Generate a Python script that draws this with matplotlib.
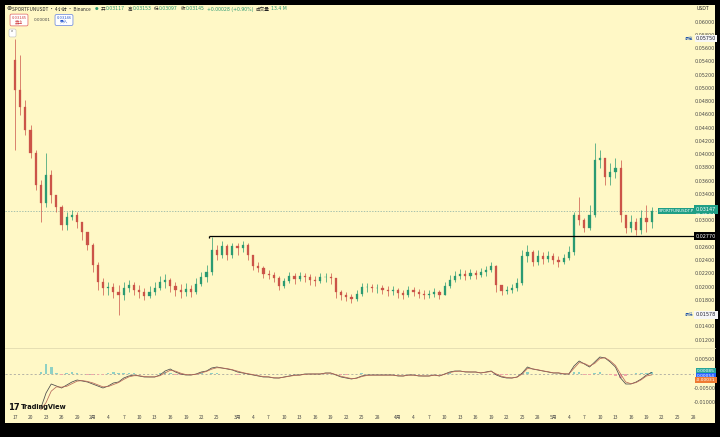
import matplotlib
matplotlib.use('Agg')
import matplotlib.pyplot as plt
import numpy as np
from matplotlib.patches import Rectangle
from matplotlib.lines import Line2D
from matplotlib.transforms import blended_transform_factory

plt.rcParams['font.family'] = ['Noto Sans CJK SC', 'DejaVu Sans']

# ---------------- data (daily aggregation) ----------------
first_open = 0.05426
closes = [
    0.04974, 0.04717, 0.04370, 0.04023, 0.03540, 0.03268, 0.03691, 0.03389, 0.03208, 0.02936,
    0.03057, 0.03087, 0.02981, 0.02830, 0.02634, 0.02332, 0.02076, 0.01985, 0.02000, 0.01925,
    0.01879, 0.01985, 0.02030, 0.01955, 0.01925, 0.01864, 0.01925, 0.01985, 0.02076, 0.02106,
    0.02015, 0.01955, 0.01925, 0.01970, 0.01925, 0.02045, 0.02151, 0.02227, 0.02559, 0.02483,
    0.02619, 0.02483, 0.02619, 0.02589, 0.02634, 0.02483, 0.02317, 0.02287, 0.02196, 0.02181,
    0.02136, 0.02015, 0.02091, 0.02166, 0.02121, 0.02166, 0.02151, 0.02106, 0.02091, 0.02151,
    0.02151, 0.02136, 0.01925, 0.01879, 0.01849, 0.01819, 0.01895, 0.02000, 0.02000, 0.01985,
    0.01985, 0.01955, 0.01940, 0.01955, 0.01910, 0.01879, 0.01955, 0.01925, 0.01895, 0.01879,
    0.01895, 0.01925, 0.01879, 0.02015, 0.02106, 0.02166, 0.02196, 0.02166, 0.02211, 0.02181,
    0.02227, 0.02257, 0.02317, 0.02030, 0.01940, 0.01955, 0.01985, 0.02061, 0.02468, 0.02528,
    0.02378, 0.02468, 0.02423, 0.02468, 0.02408, 0.02378, 0.02438, 0.02528, 0.03087, 0.03011,
    0.02891, 0.03087, 0.03917, 0.03947, 0.03660, 0.03736, 0.03796, 0.03087, 0.02891, 0.02981,
    0.02860, 0.03042, 0.02981, 0.03147]
highs = [
    0.05750, 0.05502, 0.04823, 0.04445, 0.04068, 0.03615, 0.04023, 0.03766, 0.03389, 0.03238,
    0.03132, 0.03162, 0.03132, 0.02981, 0.02830, 0.02664, 0.02378, 0.02136, 0.02076, 0.02061,
    0.02030, 0.02076, 0.02106, 0.02076, 0.02030, 0.01985, 0.02015, 0.02076, 0.02166, 0.02196,
    0.02136, 0.02076, 0.02045, 0.02061, 0.02030, 0.02136, 0.02227, 0.02332, 0.02755, 0.02634,
    0.02694, 0.02649, 0.02664, 0.02664, 0.02694, 0.02664, 0.02483, 0.02378, 0.02317, 0.02257,
    0.02227, 0.02166, 0.02136, 0.02227, 0.02211, 0.02227, 0.02211, 0.02196, 0.02166, 0.02211,
    0.02211, 0.02211, 0.02106, 0.01955, 0.01925, 0.01895, 0.01955, 0.02061, 0.02061, 0.02045,
    0.02045, 0.02030, 0.02015, 0.02015, 0.01985, 0.01955, 0.02015, 0.02000, 0.01970, 0.01955,
    0.01955, 0.01985, 0.01955, 0.02076, 0.02181, 0.02242, 0.02272, 0.02257, 0.02272, 0.02257,
    0.02287, 0.02317, 0.02378, 0.02332, 0.02030, 0.02015, 0.02045, 0.02136, 0.02559, 0.02634,
    0.02559, 0.02559, 0.02528, 0.02544, 0.02513, 0.02468, 0.02498, 0.02619, 0.03132, 0.03359,
    0.03042, 0.03238, 0.04174, 0.04068, 0.03917, 0.03872, 0.03947, 0.03917, 0.03087, 0.03087,
    0.03042, 0.03162, 0.03238, 0.03208]
lows = [
    0.04068, 0.04596, 0.04294, 0.03947, 0.03464, 0.02981, 0.03208, 0.03268, 0.03132, 0.02860,
    0.02860, 0.03011, 0.02891, 0.02710, 0.02559, 0.02227, 0.01955, 0.01879, 0.01879, 0.01834,
    0.01578, 0.01804, 0.01925, 0.01879, 0.01834, 0.01804, 0.01834, 0.01879, 0.01955, 0.01985,
    0.01925, 0.01864, 0.01834, 0.01864, 0.01849, 0.01895, 0.02015, 0.02076, 0.02181, 0.02408,
    0.02438, 0.02408, 0.02438, 0.02483, 0.02528, 0.02408, 0.02257, 0.02227, 0.02136, 0.02121,
    0.02076, 0.01955, 0.01985, 0.02061, 0.02045, 0.02091, 0.02076, 0.02030, 0.02015, 0.02061,
    0.02076, 0.02045, 0.01834, 0.01804, 0.01789, 0.01759, 0.01789, 0.01864, 0.01925, 0.01925,
    0.01910, 0.01895, 0.01864, 0.01879, 0.01834, 0.01819, 0.01849, 0.01864, 0.01834, 0.01819,
    0.01834, 0.01849, 0.01819, 0.01879, 0.01985, 0.02076, 0.02121, 0.02106, 0.02121, 0.02121,
    0.02151, 0.02166, 0.02227, 0.01925, 0.01879, 0.01895, 0.01910, 0.01940, 0.02030, 0.02378,
    0.02317, 0.02332, 0.02347, 0.02378, 0.02347, 0.02302, 0.02347, 0.02408, 0.02483, 0.02936,
    0.02830, 0.02860, 0.03057, 0.03796, 0.03540, 0.03540, 0.03645, 0.02981, 0.02815, 0.02830,
    0.02785, 0.02800, 0.02830, 0.02891]

macd_start = 5
macd_line = [
    -0.0119, -0.00665, -0.0035, -0.0042, -0.0049, -0.00385, -0.0028, -0.0021, -0.00245, -0.0028,
    -0.0035, -0.0042, -0.0049, -0.0042, -0.00315, -0.0028, -0.0014, -0.0007, -0.00035, -0.0007,
    -0.00105, -0.00105, -0.00105, -0.00035, 0.00105, 0.00175, 0.0007, 0.0, -0.00035, -0.00035,
    0.0, 0.0007, 0.00105, 0.0021, 0.00245, 0.0021, 0.00175, 0.0014, 0.0007, 0.00035,
    0.0, -0.00035, -0.0007, -0.00105, -0.00105, -0.0014, -0.0014, -0.00105, -0.0007, -0.00035,
    -0.00035, 0.0, 0.0, 0.0, 0.0, 0.00035, 0.00035, -0.00035, -0.00105, -0.0014,
    -0.00175, -0.0014, -0.0007, -0.00035, -0.00035, -0.00035, -0.00035, -0.00035, -0.00035, -0.0007,
    -0.0007, -0.00035, -0.00035, -0.0007, -0.0007, -0.0007, -0.00035, -0.0007, 0.0, 0.0007,
    0.00105, 0.00105, 0.0007, 0.0007, 0.0007, 0.00035, 0.0007, 0.00105, -0.00035, -0.00105,
    -0.0014, -0.0014, -0.00105, 0.00035, 0.00245, 0.00175, 0.0014, 0.00105, 0.0007, 0.00035,
    0.00035, 0.0, 0.0, 0.0028, 0.00455, 0.0035, 0.00245, 0.0042, 0.00595, 0.0056,
    0.0042, 0.00245, -0.0014, -0.0035, -0.0035, -0.0028, -0.00175, -0.00035, 0.00054]
signal_line = [
    -0.0125, -0.0100, -0.0060, -0.0045, -0.0046, -0.0043, -0.0034, -0.0025, -0.0023, -0.0026,
    -0.0031, -0.0038, -0.0045, -0.0044, -0.0037, -0.0030, -0.0019, -0.0010, -0.0006, -0.0006,
    -0.0009, -0.0010, -0.0010, -0.0006, 0.0004, 0.0013, 0.0010, 0.0003, -0.0002, -0.0003,
    -0.0001, 0.0004, 0.0009, 0.0017, 0.0022, 0.0021, 0.0019, 0.0015, 0.0010, 0.0005,
    0.0001, -0.0002, -0.0006, -0.0009, -0.0010, -0.0013, -0.0014, -0.0011, -0.0008, -0.0005,
    -0.0004, -0.0001, 0.0, 0.0, 0.0, 0.0003, 0.0003, -0.0002, -0.0008, -0.0012,
    -0.0016, -0.0015, -0.0009, -0.0005, -0.0004, -0.0004, -0.0004, -0.0004, -0.0004, -0.0006,
    -0.0007, -0.0004, -0.0004, -0.0006, -0.0007, -0.0007, -0.0004, -0.0006, -0.0001, 0.0005,
    0.0009, 0.0010, 0.0008, 0.0007, 0.0007, 0.0004, 0.0006, 0.0009, 0.0000, -0.0008,
    -0.0012, -0.0014, -0.0011, 0.0000, 0.0019, 0.0018, 0.0015, 0.0011, 0.0008, 0.0004,
    0.0004, 0.0001, 0.0000, 0.0020, 0.0040, 0.0037, 0.0028, 0.0037, 0.0054, 0.0057,
    0.0046, 0.0030, 0.0000, -0.0028, -0.0034, -0.0030, -0.0020, -0.0007, -0.00031]

price_ticks = [0.060, 0.058, 0.056, 0.054, 0.052, 0.050, 0.048, 0.046, 0.044, 0.042, 0.040,
               0.038, 0.036, 0.034, 0.030, 0.026, 0.024, 0.022, 0.020, 0.018, 0.014, 0.012]
macd_ticks = [0.005, -0.005, -0.010]
hline_price = 0.02770
hline_start = 37.5
high_label = 0.05750
low_label = 0.01578
# time axis (day index from Jan 17)
time_pos = [0, 3, 6, 9, 12, 15, 18, 21, 24, 27, 30, 33, 36, 39, 43, 46, 49, 52, 55, 58, 61, 64,
            67, 70, 74, 77, 80, 83, 86, 89, 92, 95, 98, 101, 104, 107, 110, 113, 116, 119, 122,
            125, 128, 131]
time_labels = ['17', '20', '23', '26', '29', '2月', '4', '7', '10', '13', '16', '19', '22', '25',
               '3月', '4', '7', '10', '13', '16', '19', '22', '25', '28', '4月', '4', '7', '10',
               '13', '16', '19', '22', '25', '28', '5月', '4', '7', '10', '13', '16', '19', '22',
               '25', '28']
header_ohlc = [('开', '0.03117'), ('高', '0.03153'), ('低', '0.03097'), ('收', '0.03145')]
header_change = '+0.00028 (+0.90%)'
header_volume = '13.4 M'

# ---------------- figure ----------------
W, H = 720, 437
fig = plt.figure(figsize=(7.2, 4.37), dpi=100, facecolor='black')
bg = '#fff8c6'
GREEN = '#2a9a72'
RED = '#cb5448'
TXT = '#4a4a4a'
FS = 3.5
HFS = 3.3


def fx(px):
    return px / W


def fy(py):
    return 1 - py / H


fig.patches.append(Rectangle((fx(5), fy(423)), 710 / W, 418 / H, transform=fig.transFigure,
                             facecolor=bg, edgecolor='none', zorder=-10))

xl = ((5 - 15) / 5.176, (694 - 15) / 5.176)
ax = fig.add_axes([fx(5), fy(347), 689 / W, 342 / H])
mx = fig.add_axes([fx(5), fy(411), 689 / W, 63 / H])
for a in (ax, mx):
    a.set_facecolor('none')
    for s in a.spines.values():
        s.set_visible(False)
    a.set_xlim(*xl)
    a.tick_params(left=False, labelleft=False, bottom=False, labelbottom=False)

ax.set_ylim(0.010945, 0.06257)
mx.set_ylim(-0.01295, 0.0091)

# candles
n = len(closes)
x = np.arange(n)
c = np.array(closes)
o = np.array([first_open] + closes[:-1])
hi = np.maximum(np.array(highs), np.maximum(o, c))
lo = np.minimum(np.array(lows), np.minimum(o, c))
cols = [GREEN if cc >= oo else RED for oo, cc in zip(o, c)]
ax.vlines(x, lo, hi, colors=cols, linewidth=0.5, zorder=3)
ax.bar(x, c - o, bottom=o, width=0.42, color=cols, edgecolor=cols, linewidth=0.2, zorder=4)

# lines in main pane
ax.axhline(closes[-1], color='#86aca4', linewidth=0.5, linestyle=(0, (2, 2)), zorder=2)
ax.hlines(hline_price, hline_start, xl[1], color='black', linewidth=0.9, zorder=5)
ax.vlines(hline_start, hline_price - 0.0003, hline_price, color='black', linewidth=0.9, zorder=5)

# price axis labels
tr = blended_transform_factory(fig.transFigure, ax.transData)
for p in price_ticks:
    ax.text(fx(705), p, f'{p:.5f}', transform=tr, ha='center', va='center', fontsize=FS,
            color=TXT, family='DejaVu Sans', clip_on=False)

ax.text(fx(706), closes[-1] + 0.00025, f'{closes[-1]:.5f}', transform=tr, ha='center',
        va='center', fontsize=FS, color='white', family='DejaVu Sans',
        bbox=dict(boxstyle='square,pad=0.45', fc='#1f9f86', ec='none'), zorder=10)
ax.text(fx(706), closes[-1] - 0.00055, '01:25:54', transform=tr, ha='center', va='center',
        fontsize=FS - 0.3, color='white', family='DejaVu Sans', zorder=11)
ax.text(fx(694), closes[-1], 'SPORTFUNUSDT.P', transform=tr, ha='right', va='center',
        fontsize=FS - 0.6, color='white', family='DejaVu Sans',
        bbox=dict(boxstyle='square,pad=0.3', fc='#1f9f86', ec='none'), zorder=10)
ax.text(fx(706), hline_price, f'{hline_price:.5f}', transform=tr, ha='center', va='center',
        fontsize=FS, color='white', family='DejaVu Sans',
        bbox=dict(boxstyle='square,pad=0.3', fc='black', ec='none'), zorder=10)
ax.text(fx(706), high_label, f'{high_label:.5f}', transform=tr, ha='center', va='center',
        fontsize=FS, color='#223', family='DejaVu Sans',
        bbox=dict(boxstyle='square,pad=0.15', fc='#f6f6f6', ec='none'), zorder=10)
ax.text(fx(689), high_label, '最高', transform=tr, ha='center', va='center', fontsize=FS - 0.4,
        color='#2255aa', zorder=10)
ax.text(fx(706), low_label, f'{low_label:.5f}', transform=tr, ha='center', va='center',
        fontsize=FS, color='#223', family='DejaVu Sans',
        bbox=dict(boxstyle='square,pad=0.3', fc='#f6f6f6', ec='none'), zorder=10)
ax.text(fx(689), low_label, '最低', transform=tr, ha='center', va='center', fontsize=FS - 0.4,
        color='#2255aa', zorder=10)

# MACD pane
mxs = np.arange(macd_start, macd_start + len(macd_line))
ml = np.array(macd_line)
sl = np.array(signal_line)
hist = ml - sl
hcol = ['#8fd1c4' if h >= 0 else '#f0a8a8' for h in hist]
mx.bar(mxs, hist, width=0.5, color=hcol, zorder=2)
mx.axhline(0, color='#9a9a9a', linewidth=0.5, linestyle=(0, (3, 3)), zorder=1)
mx.plot(mxs, ml, color='#4a4a4a', linewidth=0.55, zorder=3)
mx.plot(mxs, sl, color='#b86a5a', linewidth=0.55, zorder=3)
trm = blended_transform_factory(fig.transFigure, mx.transData)
for p in macd_ticks:
    mx.text(fx(705), p, f'{p:.5f}', transform=trm, ha='center', va='center', fontsize=FS,
            color=TXT, family='DejaVu Sans', clip_on=False)
for val, yv, fc in [(hist[-1], 0.0010, '#26a69a'), (ml[-1], -0.0006, '#2962ff'),
                    (sl[-1], -0.0022, '#ef7a32')]:
    mx.text(fx(706), yv, f'{val:.5f}', transform=trm, ha='center', va='center', fontsize=FS - 0.3,
            color='white', family='DejaVu Sans',
            bbox=dict(boxstyle='square,pad=0.2', fc=fc, ec='none'), zorder=10)

# time axis
mx.set_xticks(time_pos)
mx.set_xticklabels(time_labels)
mx.tick_params(axis='x', bottom=False, labelbottom=True, length=0, pad=3, labelsize=FS,
               labelcolor=TXT)

# pane separator
fig.add_artist(Line2D([fx(5), fx(715)], [fy(347.5), fy(347.5)], transform=fig.transFigure,
                      color='#e2dbb0', linewidth=0.6))

# header texts, placed one after another by measured width
renderer = fig.canvas.get_renderer()


def put(xpx, ypx, s, color='#222', fs=HFS, fam=None, gap=1.2, **kw):
    kws = dict(fontsize=fs, color=color, va='center', **kw)
    if fam is not None:
        kws['family'] = fam
    t = fig.text(fx(xpx), fy(ypx), s, **kws)
    bb = t.get_window_extent(renderer)
    return xpx + bb.width + gap


xp = put(6, 9, '⊗', fs=4.5, fam=['DejaVu Sans'])
xp = put(xp, 9, 'SPORTFUNUSDT · 4小时 · Binance', gap=4)
xp = put(xp, 9, '●', color=GREEN, fs=3, fam=['DejaVu Sans'], gap=2)
for lab, val in header_ohlc:
    xp = put(xp, 9, lab, gap=0.4)
    xp = put(xp, 9, val, color=GREEN, fam=['DejaVu Sans'], gap=2.5)
xp = put(xp, 9, header_change, color=GREEN, fam=['DejaVu Sans'], gap=3)
xp = put(xp, 9, '成交量', gap=1.2)
put(xp, 9, header_volume, color=GREEN, fam=['DejaVu Sans'])

fig.text(fx(19), fy(20), '0.03145\n卖出', fontsize=HFS - 0.3, color='#d03c3c', ha='center',
         va='center', linespacing=1.0,
         bbox=dict(boxstyle='round,pad=0.35', fc='white', ec='#e06060', lw=0.5))
fig.text(fx(42), fy(20), '0.00001', fontsize=HFS - 0.3, color='#444', ha='center', va='center',
         family=['DejaVu Sans'])
fig.text(fx(64), fy(20), '0.03146\n买入', fontsize=HFS - 0.3, color='#2255cc', ha='center',
         va='center', linespacing=1.0,
         bbox=dict(boxstyle='round,pad=0.35', fc='white', ec='#6080e0', lw=0.5))
fig.text(fx(12.5), fy(33), '⌃', fontsize=3.5, color='#333', ha='center', va='center',
         family=['DejaVu Sans'],
         bbox=dict(boxstyle='round,pad=0.3', fc='white', ec='#bbbbbb', lw=0.4))
fig.text(fx(703), fy(9), 'USDT', fontsize=HFS, color='#222', ha='center', va='center',
         family=['DejaVu Sans'])

fig.text(fx(8), fy(407), '17', fontsize=6, color='#111', va='center', weight='heavy',
         family=['DejaVu Sans'])
fig.text(fx(21), fy(407), 'TradingView', fontsize=4.8, color='#111', va='center', weight='bold',
         family=['DejaVu Sans'])

fig.savefig('out.png', dpi=100, facecolor='black')
